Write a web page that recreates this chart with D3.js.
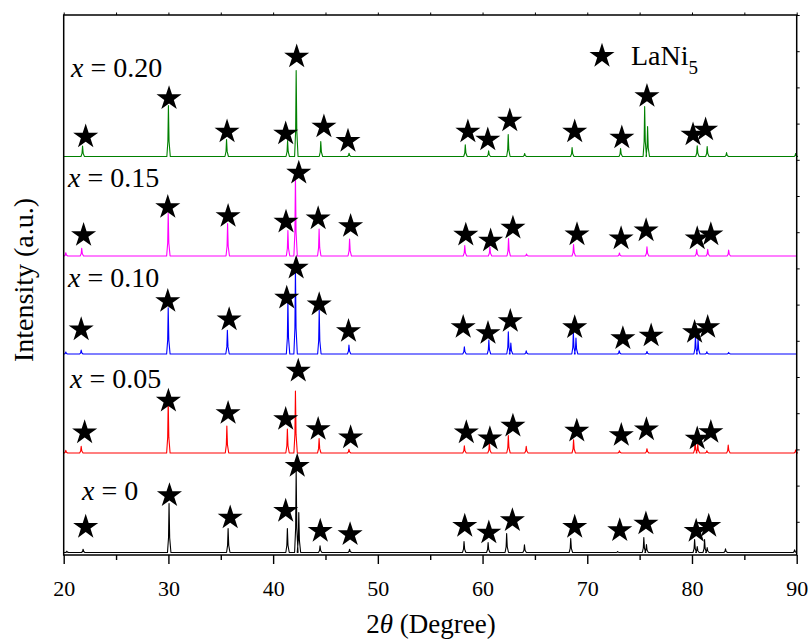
<!DOCTYPE html>
<html>
<head>
<meta charset="utf-8">
<script src="https://cdn.jsdelivr.net/npm/d3@7"></script>
<style>
  body { margin: 0; background: #fff; }
</style>
</head>
<body>
<script>
// 2theta ticks
const majorTicks = [20, 30, 40, 50, 60, 70, 80, 90];
const minorTicks = [25, 35, 45, 55, 65, 75, 85];

// sample names, bottom to top
const samples = ["0", "0.05", "0.10", "0.15", "0.20"];
const colors = ["#000000", "#ff0000", "#0000ff", "#ff00ff", "#008000"];
// vertical offset of each pattern (a.u.)
const offsets = [2.5, 102, 201, 299, 398.5];

// peaks: [2theta, intensity above baseline]
const peaks0 = [[20.3,1.3],[21.85,3.3],[30.06,49],[35.7,24],[41.36,24],[42.2,82],[42.45,40],[44.48,6.7],[47.3,3.3],[58.23,11],[60.53,10],[62.3,19],[64.0,7.7],[68.42,14],[72.9,1],[75.4,15],[75.65,8],[80.25,13],[80.5,6],[81.2,13],[81.45,5],[83.2,3.7],[89.8,2.7]];
const peaks005 = [[20.2,2.7],[21.67,6.7],[29.98,52],[35.58,27],[41.36,24],[42.13,62],[44.39,14.5],[47.24,3.7],[58.26,7.3],[60.65,9.6],[62.46,17.5],[64.17,6.7],[68.69,13.3],[73.07,2.3],[75.7,4.3],[80.3,11.5],[80.55,9],[81.42,2.3],[83.46,8],[89.9,3]];
const peaks010 = [[20.2,2],[21.67,4],[29.98,46.3],[35.63,23.7],[41.41,54],[42.13,86],[44.4,44],[47.24,9],[58.26,7.3],[60.6,14],[62.46,22.3],[62.7,11],[64.17,3.2],[68.67,22.3],[68.92,16],[73.05,3.3],[75.7,2.5],[80.33,18],[80.58,15],[81.42,2.2],[83.5,1.6]];
const peaks015 = [[20.2,3.3],[21.72,7.7],[29.98,43],[35.65,32.5],[41.41,25.5],[42.13,80],[44.39,27],[47.3,17],[58.3,10.5],[60.7,9],[62.48,17.5],[64.2,2],[68.69,11.5],[73.07,3],[75.7,9.3],[80.45,6.5],[81.5,6.7],[83.5,6]];
const peaks020 = [[21.8,10.5],[30.0,51],[35.55,17],[41.38,16],[42.2,86],[44.55,15],[47.25,3.3],[58.35,11.7],[60.58,5.7],[62.45,22],[64.02,3],[68.55,9],[73.18,8],[75.48,50],[75.76,30],[80.5,10.7],[81.45,10],[83.3,4],[89.9,3]];

// LaNi5 star markers: [2theta, height above baseline]
const stars0 = [[22.1,26.7],[30.1,58.3],[35.9,36],[41.2,42.7],[42.3,87.7],[44.5,22.7],[47.35,19.3],[58.3,27.7],[60.6,21],[62.85,33.3],[68.8,26.7],[73.1,23.3],[75.6,30],[80.4,22.7],[81.6,27.7]];
const stars005 = [[22.0,21.7],[30.0,53.3],[35.7,41],[41.2,35],[42.4,83.3],[44.3,25],[47.4,16.7],[58.45,21.7],[60.7,15.7],[62.9,28.3],[69.0,23.3],[73.25,19],[75.65,24.7],[80.5,15.5],[81.8,22]];
const stars010 = [[21.67,25.7],[29.94,54],[35.8,35.7],[41.3,57.3],[42.2,87.3],[44.4,50.7],[47.2,24],[58.15,28],[60.52,22],[62.65,34],[68.8,27.8],[73.4,16.8],[76.1,19.5],[80.25,23],[81.5,28]];
const stars015 = [[21.9,22],[29.94,50],[35.7,41],[41.23,35.3],[42.45,84.3],[44.3,38.7],[47.4,31],[58.4,22.3],[60.77,16.5],[62.9,29.3],[69.02,22.7],[73.23,18.7],[75.62,26.7],[80.5,18.7],[81.8,22.7]];
const stars020 = [[22.1,21],[30.06,59.3],[35.6,26],[41.2,24],[42.25,101],[44.85,31],[47.15,16.7],[58.6,26],[60.5,18],[62.6,37],[68.8,26],[73.3,20],[75.7,61.5],[80.1,23],[81.3,28]];

const allPeaks = [peaks0, peaks005, peaks010, peaks015, peaks020];
const allStars = [stars0, stars005, stars010, stars015, stars020];

// label positions (px)
const labelPos = [[82, 500], [70, 388], [68, 287], [68, 187], [71, 77]];

const serif = "'Liberation Serif'";

const W = 809, H = 641;
const margin = { top: 15, right: 12.3, bottom: 86, left: 63.7 };

const svg = d3.select("body").append("svg")
  .attr("width", W)
  .attr("height", H);

const x = d3.scaleLinear().domain([20, 90]).range([margin.left, W - margin.right]);
const y = d3.scaleLinear().domain([0, 540]).range([H - margin.bottom, margin.top]);

// peak profile -> polyline
function profile(pk) {
  const pts = [[20, 0]];
  pk.forEach(([p, h]) => {
    pts.push([p - 0.15, 0], [p - 0.05, h * 0.3], [p, h], [p + 0.06, h * 0.3], [p + 0.18, 0]);
  });
  pts.push([90, 0]);
  return pts;
}

const star = d3.symbol().type(d3.symbolStar).size(195);

allPeaks.forEach((pk, i) => {
  const line = d3.line()
    .x(d => x(d[0]))
    .y(d => y(d[1] + offsets[i]));

  svg.append("path")
    .datum(profile(pk))
    .attr("d", line)
    .attr("fill", "none")
    .attr("stroke", colors[i])
    .attr("stroke-width", 1.1)
    .attr("stroke-linejoin", "round");
});

allStars.forEach((st, i) => {
  svg.append("g")
    .selectAll("path")
    .data(st)
    .enter()
    .append("path")
    .attr("d", star)
    .attr("transform", d => "translate(" + x(d[0]) + "," + (y(d[1] + offsets[i]) + 1.2) + ")")
    .attr("fill", "#000");
});

// sample labels
samples.forEach((s, i) => {
  const t = svg.append("text")
    .attr("x", labelPos[i][0])
    .attr("y", labelPos[i][1])
    .style("font-family", serif)
    .attr("font-size", "28px");
  t.append("tspan").attr("font-style", "italic").text("x");
  t.append("tspan").text(" = " + s);
});

// legend
svg.append("path")
  .attr("d", star)
  .attr("transform", "translate(602,56)")
  .attr("fill", "#000");
const leg = svg.append("text")
  .attr("x", 631)
  .attr("y", 65)
  .style("font-family", serif)
  .attr("font-size", "28px");
leg.append("tspan").text("LaNi");
leg.append("tspan").attr("font-size", "19px").attr("dy", 9).text("5");

// frame
svg.append("rect")
  .attr("x", margin.left)
  .attr("y", margin.top)
  .attr("width", W - margin.left - margin.right)
  .attr("height", H - margin.top - margin.bottom)
  .attr("fill", "none")
  .attr("stroke", "#000")
  .attr("stroke-width", 1.5);

// axes
const bottom = H - margin.bottom;
const gx = svg.append("g")
  .attr("transform", "translate(0," + bottom + ")")
  .call(d3.axisBottom(x).tickValues(majorTicks).tickSize(9).tickPadding(16).tickFormat(d3.format("d")));
gx.select(".domain").remove();
gx.selectAll("line").attr("stroke-width", 1.4);
gx.selectAll("text").attr("font-size", "22px").style("font-family", serif);

const gxm = svg.append("g")
  .attr("transform", "translate(0," + bottom + ")")
  .call(d3.axisBottom(x).tickValues(minorTicks).tickSize(5).tickFormat(""));
gxm.select(".domain").remove();
gxm.selectAll("line").attr("stroke-width", 1.4);

const gt = svg.append("g")
  .attr("transform", "translate(0," + margin.top + ")")
  .call(d3.axisTop(x).tickValues(majorTicks.concat(minorTicks)).tickSize(2.5).tickFormat(""));
gt.select(".domain").remove();

const gr = svg.append("g")
  .attr("transform", "translate(" + (W - margin.right) + ",0)")
  .call(d3.axisRight(y).tickValues(d3.range(540, 0, -36.2)).tickSize(3).tickFormat(""));
gr.select(".domain").remove();

// axis titles
const xt = svg.append("text")
  .attr("x", 431)
  .attr("y", 633)
  .attr("text-anchor", "middle")
  .style("font-family", serif)
  .attr("font-size", "27px");
xt.append("tspan").text("2");
xt.append("tspan").attr("font-style", "italic").text("θ");
xt.append("tspan").text(" (Degree)");

svg.append("text")
  .attr("transform", "translate(33,280) rotate(-90)")
  .attr("text-anchor", "middle")
  .style("font-family", serif)
  .attr("font-size", "28px")
  .text("Intensity (a.u.)");
</script>
</body>
</html>
